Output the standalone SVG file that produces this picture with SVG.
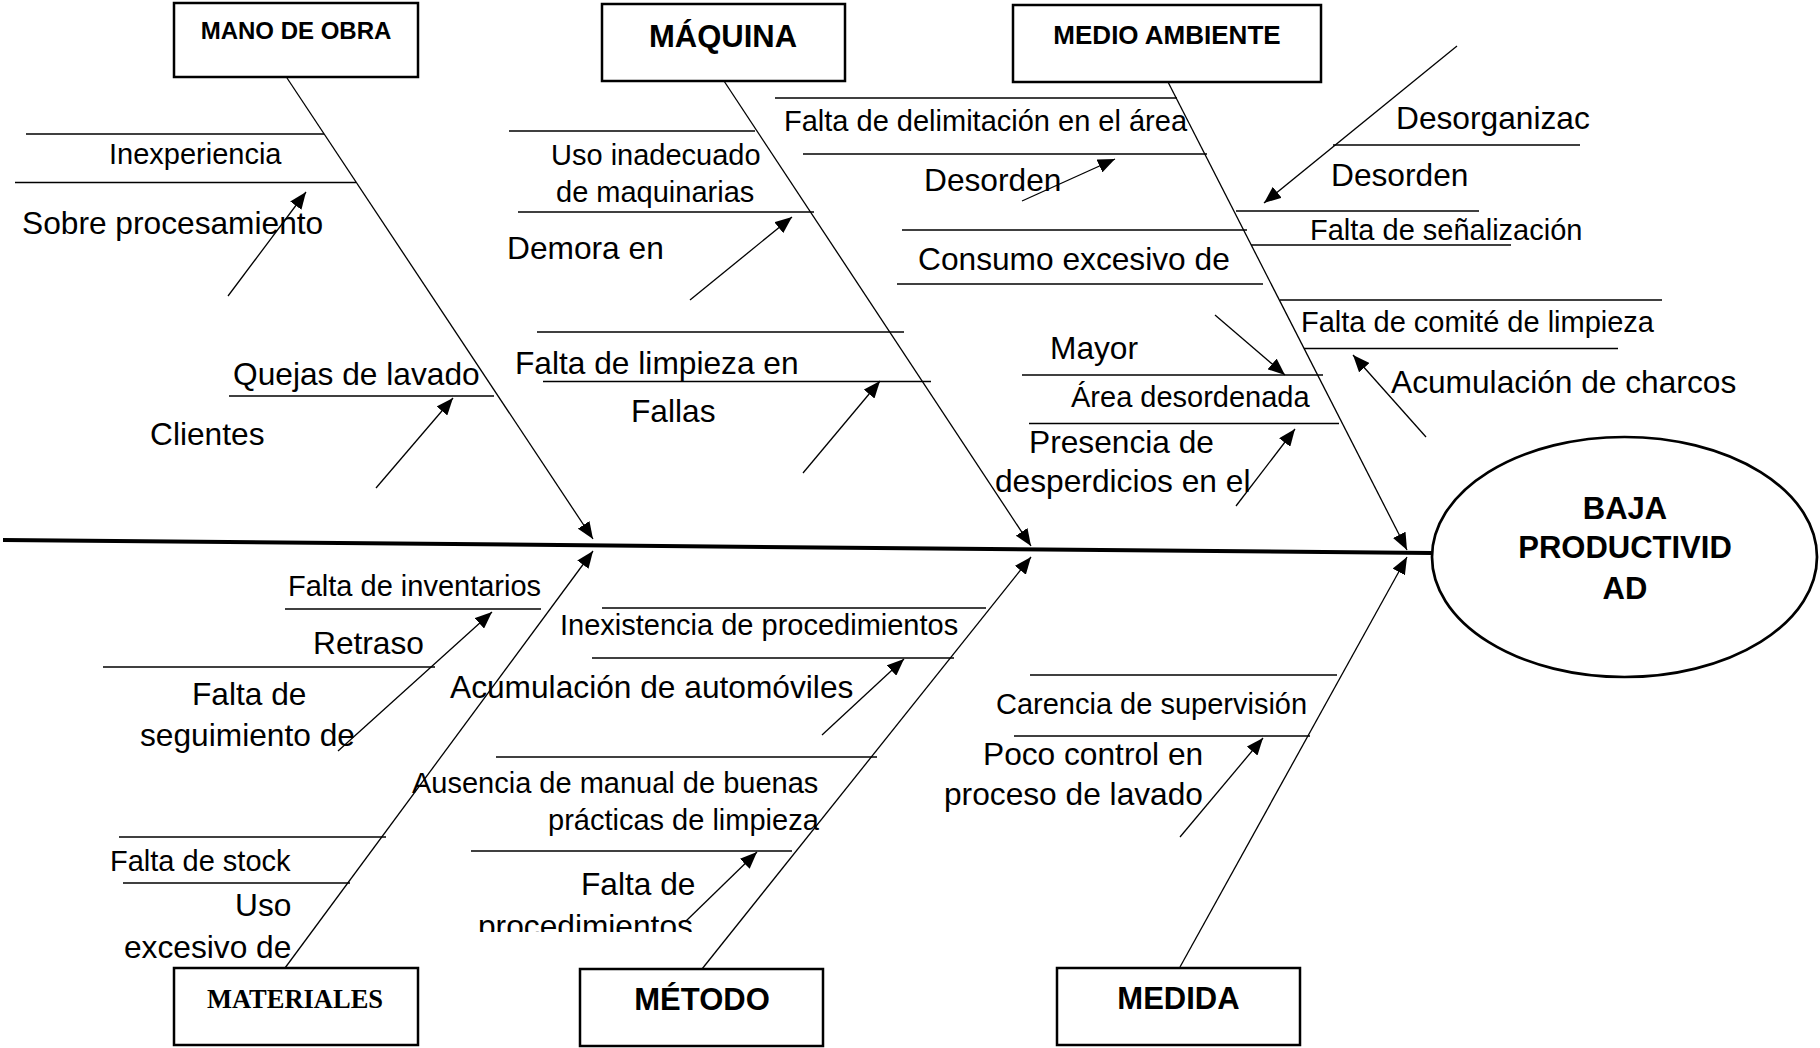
<svg xmlns="http://www.w3.org/2000/svg" width="1820" height="1048" viewBox="0 0 1820 1048">
<style>
.box{fill:#fff;stroke:#000;stroke-width:2.5}
.title{font-family:"Liberation Sans",Arial,sans-serif;font-weight:bold;text-anchor:middle;fill:#000}
.bone{stroke:#000;stroke-width:1.3;fill:none}
.sub{stroke:#000;stroke-width:1.5;fill:none}
.arr{stroke:#000;stroke-width:1.3;fill:none;marker-end:url(#ah)}
.m{font-family:"Liberation Sans",Arial,sans-serif;font-size:29px;fill:#000}
.l{font-family:"Liberation Sans",Arial,sans-serif;font-size:31.7px;fill:#000}
</style>
<defs>
<marker id="ah" markerUnits="userSpaceOnUse" markerWidth="18" markerHeight="14" viewBox="0 0 18 14" refX="17" refY="7" orient="auto">
<path d="M0,0 L17,7 L0,14 z" fill="#000"/>
</marker>
<clipPath id="clipProc"><rect x="400" y="880" width="400" height="52"/></clipPath>
</defs>
<rect width="1820" height="1048" fill="#fff"/>

<g id="connectors">
<line x1="3" y1="540" x2="1432" y2="553" stroke="#000" stroke-width="4"/>
<line class="arr" x1="287" y1="78" x2="593" y2="539"/>
<line class="arr" x1="724" y1="81" x2="1031" y2="546"/>
<line class="arr" x1="1168" y1="82" x2="1407" y2="550"/>
<line class="arr" x1="285" y1="968" x2="593" y2="551"/>
<line class="arr" x1="702" y1="969" x2="1031" y2="557"/>
<line class="arr" x1="1180" y1="967" x2="1407" y2="557"/>
</g>

<g id="mano-de-obra-causes">
<line class="sub" x1="26" y1="134" x2="324" y2="134"/>
<line class="sub" x1="15" y1="182.5" x2="356" y2="182.5"/>
<line class="sub" x1="229" y1="396" x2="494" y2="396"/>
<text class="m" x="109" y="164">Inexperiencia</text>
<text class="l" x="22" y="234">Sobre procesamiento</text>
<text class="l" x="233" y="385">Quejas de lavado</text>
<text class="l" x="150" y="445">Clientes</text>
<line class="arr" x1="228" y1="296" x2="306" y2="192"/>
<line class="arr" x1="376" y1="488" x2="453" y2="398"/>
</g>

<g id="maquina-causes">
<line class="sub" x1="509" y1="131" x2="755" y2="131"/>
<line class="sub" x1="518" y1="212" x2="814" y2="212"/>
<line class="sub" x1="537" y1="332" x2="904" y2="332"/>
<line class="sub" x1="543" y1="381.5" x2="931" y2="381.5"/>
<text class="m" x="551" y="165">Uso inadecuado</text>
<text class="m" x="556" y="202">de maquinarias</text>
<text class="l" x="507" y="259">Demora en</text>
<text class="l" x="515" y="374">Falta de limpieza en</text>
<text class="l" x="631" y="422">Fallas</text>
<line class="arr" x1="690" y1="300" x2="792" y2="217"/>
<line class="arr" x1="803" y1="473" x2="880" y2="381"/>
</g>

<g id="medio-ambiente-causes">
<line class="sub" x1="775" y1="98" x2="1177" y2="98"/>
<line class="sub" x1="803" y1="154" x2="1207" y2="154"/>
<line class="sub" x1="902" y1="230" x2="1247" y2="230"/>
<line class="sub" x1="897" y1="284" x2="1263" y2="284"/>
<line class="sub" x1="1333" y1="145" x2="1580" y2="145"/>
<line class="sub" x1="1236" y1="211" x2="1479" y2="211"/>
<line class="sub" x1="1251" y1="245" x2="1511" y2="245"/>
<line class="sub" x1="1280" y1="300" x2="1662" y2="300"/>
<line class="sub" x1="1304" y1="348.5" x2="1618" y2="348.5"/>
<line class="sub" x1="1022" y1="375" x2="1323" y2="375"/>
<line class="sub" x1="1029" y1="423.5" x2="1339" y2="423.5"/>
<text class="m" x="784" y="131">Falta de delimitación en el área</text>
<text class="l" x="924" y="191">Desorden</text>
<text class="l" x="918" y="270">Consumo excesivo de</text>
<text class="l" x="1050" y="359">Mayor</text>
<text class="m" x="1071" y="407">Área desordenada</text>
<text class="l" x="1029" y="453">Presencia de</text>
<text class="l" x="995" y="492">desperdicios en el</text>
<text class="l" x="1396" y="129">Desorganizac</text>
<text class="l" x="1331" y="186">Desorden</text>
<text class="m" x="1310" y="240">Falta de señalización</text>
<text class="m" x="1301" y="332">Falta de comité de limpieza</text>
<text class="l" x="1391" y="393">Acumulación de charcos</text>
<line class="arr" x1="1022" y1="201" x2="1115" y2="159"/>
<line class="arr" x1="1457" y1="46" x2="1264" y2="203"/>
<line class="arr" x1="1215" y1="315" x2="1285" y2="375"/>
<line class="arr" x1="1426" y1="437" x2="1353" y2="355"/>
<line class="arr" x1="1236" y1="506" x2="1295" y2="429"/>
</g>

<g id="materiales-causes">
<line class="sub" x1="285" y1="609" x2="541" y2="609"/>
<line class="sub" x1="103" y1="667" x2="435" y2="667"/>
<line class="sub" x1="119" y1="837" x2="386" y2="837"/>
<line class="sub" x1="123" y1="883" x2="350" y2="883"/>
<text class="m" x="288" y="596">Falta de inventarios</text>
<text class="l" x="313" y="654">Retraso</text>
<text class="l" x="192" y="704.5">Falta de</text>
<text class="l" x="140" y="746">seguimiento de</text>
<text class="m" x="110" y="871">Falta de stock</text>
<text class="l" x="235" y="916">Uso</text>
<text class="l" x="124" y="958">excesivo de</text>
<line class="arr" x1="338" y1="751" x2="492" y2="612"/>
</g>

<g id="metodo-causes">
<line class="sub" x1="602" y1="608" x2="986" y2="608"/>
<line class="sub" x1="592" y1="658" x2="954" y2="658"/>
<line class="sub" x1="496" y1="757" x2="877" y2="757"/>
<line class="sub" x1="471" y1="851" x2="792" y2="851"/>
<text class="m" x="560" y="634.5">Inexistencia de procedimientos</text>
<text class="l" x="450" y="698">Acumulación de automóviles</text>
<text class="m" x="412" y="793">Ausencia de manual de buenas</text>
<text class="m" x="548" y="830">prácticas de limpieza</text>
<text class="l" x="581" y="895">Falta de</text>
<text class="l" x="478" y="937" clip-path="url(#clipProc)">procedimientos</text>
<line class="arr" x1="822" y1="735" x2="904" y2="659"/>
<line class="arr" x1="685" y1="922" x2="757" y2="852"/>
</g>

<g id="medida-causes">
<line class="sub" x1="1030" y1="675" x2="1337" y2="675"/>
<line class="sub" x1="1014" y1="736" x2="1310" y2="736"/>
<text class="m" x="996" y="714">Carencia de supervisión</text>
<text class="l" x="983" y="765">Poco control en</text>
<text class="l" x="944" y="805">proceso de lavado</text>
<line class="arr" x1="1180" y1="837" x2="1263" y2="738"/>
</g>

<g id="node-mano-de-obra">
<rect class="box" x="174" y="3" width="244" height="74"/>
<text class="title" x="296" y="39" font-size="24">MANO DE OBRA</text>
</g>
<g id="node-maquina">
<rect class="box" x="602" y="4" width="243" height="77"/>
<text class="title" x="723" y="46.5" font-size="31">MÁQUINA</text>
</g>
<g id="node-medio-ambiente">
<rect class="box" x="1013" y="5" width="308" height="77"/>
<text class="title" x="1167" y="44" font-size="26">MEDIO AMBIENTE</text>
</g>
<g id="node-materiales">
<rect class="box" x="174" y="968" width="244" height="77"/>
<text x="295" y="1007.5" font-family="'Liberation Serif','Times New Roman',serif" font-weight="bold" font-size="26.5" text-anchor="middle">MATERIALES</text>
</g>
<g id="node-metodo">
<rect class="box" x="580" y="969" width="243" height="77"/>
<text class="title" x="702" y="1010" font-size="31">MÉTODO</text>
</g>
<g id="node-medida">
<rect class="box" x="1057" y="968" width="243" height="77"/>
<text class="title" x="1178.5" y="1009" font-size="31">MEDIDA</text>
</g>
<g id="node-baja-productividad">
<ellipse cx="1624.5" cy="557" rx="192.5" ry="120" fill="#fff" stroke="#000" stroke-width="2.7"/>
<text class="title" x="1625" y="519" font-size="31">BAJA</text>
<text class="title" x="1625" y="558" font-size="31">PRODUCTIVID</text>
<text class="title" x="1625" y="599" font-size="31">AD</text>
</g>
</svg>
